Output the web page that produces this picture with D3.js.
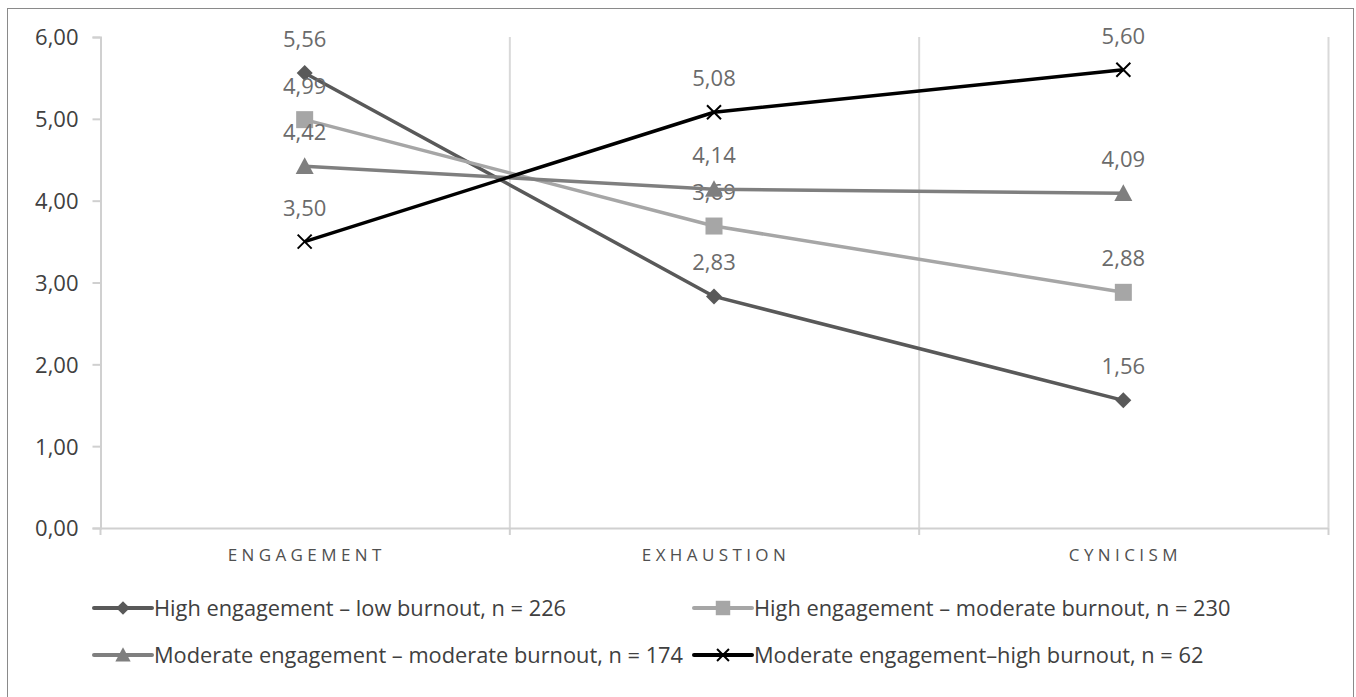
<!DOCTYPE html>
<html>
<head>
<meta charset="utf-8">
<script src="https://cdn.jsdelivr.net/npm/d3@7"></script>
<style>
  html, body { margin: 0; padding: 0; background: #fff; }
  svg { display: block; font-family: "Open Sans", Lato, "Noto Sans", sans-serif; }
</style>
</head>
<body>
<svg id="chart" width="1356" height="697"></svg>
<script>
// Profile means per dimension for the four engagement/burnout groups
const categories = ["ENGAGEMENT", "EXHAUSTION", "CYNICISM"];
const seriesNames = [
  "High engagement \u2013 low burnout, n = 226",
  "High engagement \u2013 moderate burnout, n = 230",
  "Moderate engagement \u2013 moderate burnout, n = 174",
  "Moderate engagement\u2013high burnout, n = 62"
];
const highEngLowBurnout = [5.56, 2.83, 1.56];
const highEngModBurnout = [4.99, 3.69, 2.88];
const modEngModBurnout = [4.42, 4.14, 4.09];
const modEngHighBurnout = [3.50, 5.08, 5.60];
const yTicks = [0, 1, 2, 3, 4, 5, 6];

const seriesValues = [highEngLowBurnout, highEngModBurnout, modEngModBurnout, modEngHighBurnout];
const seriesColors = ["#595959", "#a6a6a6", "#7f7f7f", "#000000"];
const seriesMarkers = ["diamond", "square", "triangle", "cross"];

const fmt = v => d3.format(".2f")(v).replace(".", ",");

const svg = d3.select("#chart");

// outer frame
svg.append("rect")
  .attr("x", 7.5).attr("y", 8.5)
  .attr("width", 1346).attr("height", 700)
  .attr("fill", "none").attr("stroke", "#8a8a8a").attr("stroke-width", 1);

const x = d3.scaleBand().domain(categories).range([100, 1328]).padding(0);
const y = d3.scaleLinear().domain([0, 6]).range([528, 37]);

// vertical separators between categories
const bounds = [100].concat(categories.map(c => x(c) + x.bandwidth()));
svg.append("g").selectAll("line")
  .data(bounds.slice(1))
  .join("line")
  .attr("x1", d => d + 0.5).attr("x2", d => d + 0.5)
  .attr("y1", y(6)).attr("y2", y(0))
  .attr("stroke", "#d9d9d9").attr("stroke-width", 2);

// y axis
const yAxis = svg.append("g")
  .attr("transform", "translate(100.5,0)")
  .call(d3.axisLeft(y).tickValues(yTicks).tickFormat(fmt).tickSize(8).tickPadding(14));
yAxis.select(".domain").attr("stroke", "#d0d0d0").attr("stroke-width", 2);
yAxis.selectAll(".tick line").attr("stroke", "#d0d0d0").attr("stroke-width", 2);
yAxis.selectAll(".tick text")
  .attr("fill", "#404040")
  .attr("dy", "0.36em")
  .style("font-size", "22px")
  .style("font-family", "'Open Sans', Lato, sans-serif");

// x axis line with boundary ticks
const xAxisG = svg.append("g");
xAxisG.append("line")
  .attr("x1", 100).attr("x2", 1328)
  .attr("y1", y(0) + 0.5).attr("y2", y(0) + 0.5)
  .attr("stroke", "#d0d0d0").attr("stroke-width", 2);
xAxisG.selectAll("line.b")
  .data(bounds)
  .join("line").attr("class", "b")
  .attr("x1", d => d + 0.5).attr("x2", d => d + 0.5)
  .attr("y1", y(0)).attr("y2", y(0) + 7)
  .attr("stroke", "#d0d0d0").attr("stroke-width", 2);
xAxisG.selectAll("text")
  .data(categories)
  .join("text")
  .attr("x", d => x(d) + x.bandwidth() / 2 + 2)
  .attr("y", 561)
  .attr("text-anchor", "middle")
  .attr("fill", "#505050")
  .style("font-size", "17px")
  .style("letter-spacing", "4.4px")
  .text(d => d);

// marker shapes
function drawMarker(g, type, color, cx, cy, scale) {
  const s = scale || 1;
  if (type === "diamond") {
    const h = 8 * s;
    g.append("path")
      .attr("d", `M${cx},${cy - h} L${cx + h},${cy} L${cx},${cy + h} L${cx - h},${cy} Z`)
      .attr("fill", color);
  } else if (type === "square") {
    const h = 8.5 * s;
    g.append("rect")
      .attr("x", cx - h).attr("y", cy - h)
      .attr("width", 2 * h).attr("height", 2 * h)
      .attr("fill", color);
  } else if (type === "triangle") {
    const h = 9 * s;
    g.append("path")
      .attr("d", `M${cx},${cy - h} L${cx + h},${cy + h * 0.85} L${cx - h},${cy + h * 0.85} Z`)
      .attr("fill", color);
  } else if (type === "cross") {
    const h = 7 * s;
    g.append("path")
      .attr("d", `M${cx - h},${cy - h} L${cx + h},${cy + h} M${cx - h},${cy + h} L${cx + h},${cy - h}`)
      .attr("stroke", color).attr("stroke-width", 2).attr("fill", "none");
  }
}

const line = d3.line()
  .x((d, i) => x(categories[i]) + x.bandwidth() / 2)
  .y(d => y(d));

const plot = svg.append("g");
seriesValues.forEach((vals, si) => {
  const g = plot.append("g");
  g.append("path")
    .datum(vals)
    .attr("d", line)
    .attr("fill", "none")
    .attr("stroke", seriesColors[si])
    .attr("stroke-width", 3.5)
    .attr("stroke-linejoin", "round");
  vals.forEach((v, i) => {
    drawMarker(g, seriesMarkers[si], seriesColors[si], x(categories[i]) + x.bandwidth() / 2, y(v));
  });
  g.selectAll("text")
    .data(vals)
    .join("text")
    .attr("x", (d, i) => x(categories[i]) + x.bandwidth() / 2)
    .attr("y", d => y(d) - 26)
    .attr("text-anchor", "middle")
    .attr("fill", "#6b6b6b")
    .style("font-size", "22px")
    .text(d => fmt(d));
});

// legend
const legendPos = [
  { lx: 94, ly: 608 },
  { lx: 694, ly: 608 },
  { lx: 94, ly: 655 },
  { lx: 694, ly: 655 }
];
const legend = svg.append("g");
seriesNames.forEach((name, si) => {
  const p = legendPos[si];
  const g = legend.append("g");
  g.append("line")
    .attr("x1", p.lx).attr("x2", p.lx + 58)
    .attr("y1", p.ly).attr("y2", p.ly)
    .attr("stroke", seriesColors[si]).attr("stroke-width", 4)
    .attr("stroke-linecap", "round");
  drawMarker(g, seriesMarkers[si], seriesColors[si], p.lx + 29, p.ly, 0.85);
  g.append("text")
    .attr("x", p.lx + 60)
    .attr("y", p.ly + 8)
    .attr("fill", "#404040")
    .style("font-size", "21.8px")
    .text(name);
});
</script>
</body>
</html>
